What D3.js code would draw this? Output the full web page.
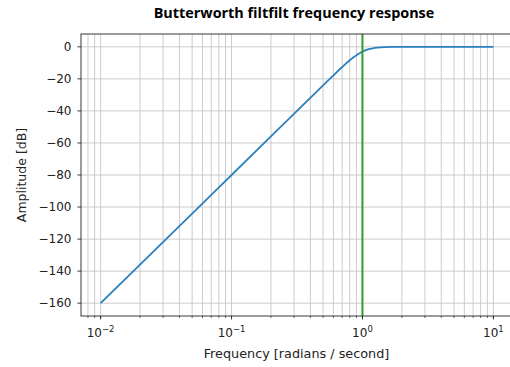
<!DOCTYPE html>
<html>
<head>
<meta charset="utf-8">
<script src="https://cdn.jsdelivr.net/npm/d3@7"></script>
<style>
  html, body { margin: 0; padding: 0; background: #fff; overflow: hidden; }
  svg { display: block; font-family: "DejaVu Sans", sans-serif; }
</style>
</head>
<body>
<svg id="chart" width="510" height="367"></svg>
<script>
// Frequency response of a 4th-order Butterworth high-pass, cutoff 1 rad/s
const freqs = [0.01, 0.02, 0.05, 0.1, 0.2, 0.3, 0.4, 0.5, 0.6, 0.7, 0.8, 0.85, 0.9, 0.95, 1.0, 1.05, 1.1, 1.2, 1.3, 1.5, 1.7, 2, 3, 5, 10];
const ampDb = [-160, -135.9, -104.1, -80, -55.9, -41.8, -31.8, -24.1, -17.8, -12.6, -8.4, -6.7, -5.2, -4.0, -3.0, -2.24, -1.66, -0.91, -0.50, -0.17, -0.06, -0.02, 0, 0, 0];
const cutoff = 1;

const yTicks = [0, -20, -40, -60, -80, -100, -120, -140, -160];
const xTickExps = [-2, -1, 0, 1];
const titleText = "Butterworth filtfilt frequency response";
const xLabel = "Frequency [radians / second]";
const yLabel = "Amplitude [dB]";

const svg = d3.select("#chart");
const m = { left: 81, top: 34, right: 513, bottom: 316 };

const x = d3.scaleLog().domain([Math.pow(10, -2.15), Math.pow(10, 1.15)]).range([m.left, m.right]);
const y = d3.scaleLinear().domain([-168, 8]).range([m.bottom, m.top]);

// Grid: major + minor on x, major on y
const minorX = [];
for (let e = -3; e <= 1; e++) {
  for (let k = 1; k <= 9; k++) {
    const v = k * Math.pow(10, e);
    if (v >= x.domain()[0] && v <= x.domain()[1]) minorX.push(v);
  }
}
const grid = svg.append("g").attr("stroke", "#c6c6c6").attr("stroke-width", 0.9);
grid.selectAll("line.gx").data(minorX).join("line")
  .attr("x1", d => x(d)).attr("x2", d => x(d))
  .attr("y1", m.top).attr("y2", m.bottom);
grid.selectAll("line.gy").data(yTicks).join("line")
  .attr("x1", m.left).attr("x2", m.right)
  .attr("y1", d => y(d)).attr("y2", d => y(d));

// Response curve
const line = d3.line().x((d, i) => x(freqs[i])).y(d => y(d)).curve(d3.curveMonotoneX);
svg.append("path").datum(ampDb)
  .attr("d", line)
  .attr("fill", "none")
  .attr("stroke", "#2a80be")
  .attr("stroke-width", 1.8);

// Cutoff marker
svg.append("line")
  .attr("x1", x(cutoff)).attr("x2", x(cutoff))
  .attr("y1", m.top).attr("y2", m.bottom)
  .attr("stroke", "#2ca02c").attr("stroke-width", 2);

// Spines
svg.append("rect")
  .attr("x", m.left).attr("y", m.top)
  .attr("width", m.right - m.left).attr("height", m.bottom - m.top)
  .attr("fill", "none").attr("stroke", "#222").attr("stroke-width", 0.9);

// X axis ticks
const xAxis = svg.append("g").attr("transform", `translate(0,${m.bottom})`);
xAxis.selectAll("line.minor").data(minorX).join("line")
  .attr("x1", d => x(d)).attr("x2", d => x(d))
  .attr("y1", 0).attr("y2", 2).attr("stroke", "#222").attr("stroke-width", 0.7);
xAxis.selectAll("line.major").data(xTickExps).join("line")
  .attr("x1", d => x(Math.pow(10, d))).attr("x2", d => x(Math.pow(10, d)))
  .attr("y1", 0).attr("y2", 3.5).attr("stroke", "#222").attr("stroke-width", 0.9);
const xt = xAxis.selectAll("text").data(xTickExps).join("text")
  .attr("x", d => x(Math.pow(10, d)))
  .attr("y", 21)
  .attr("text-anchor", "middle")
  .attr("font-size", 12).attr("fill", "#222");
xt.append("tspan").text("10");
xt.append("tspan").attr("dy", -5.5).attr("font-size", 8.5).text(d => d < 0 ? "\u2212" + Math.abs(d) : String(d));

// Y axis ticks
const yAxis = svg.append("g").attr("transform", `translate(${m.left},0)`);
yAxis.selectAll("line").data(yTicks).join("line")
  .attr("x1", -3.5).attr("x2", 0)
  .attr("y1", d => y(d)).attr("y2", d => y(d))
  .attr("stroke", "#222").attr("stroke-width", 0.9);
yAxis.selectAll("text").data(yTicks).join("text")
  .attr("x", -9.5).attr("y", d => y(d)).attr("dy", "0.35em")
  .attr("text-anchor", "end").attr("font-size", 12).attr("fill", "#222")
  .text(d => d < 0 ? "\u2212" + Math.abs(d) : String(d));

// Labels
svg.append("text")
  .attr("x", 296.5).attr("y", 358)
  .attr("text-anchor", "middle").attr("font-size", 12.8).attr("fill", "#222")
  .text(xLabel);
svg.append("text")
  .attr("transform", `translate(25.5,${(m.top + m.bottom) / 2}) rotate(-90)`)
  .attr("text-anchor", "middle").attr("font-size", 12.5).attr("fill", "#222")
  .text(yLabel);
svg.append("text")
  .attr("x", 294).attr("y", 17.5)
  .attr("text-anchor", "middle")
  .attr("font-family", "'Open Sans', sans-serif")
  .attr("font-weight", "bold").attr("font-size", 14.4).attr("fill", "#000")
  .text(titleText);
</script>
</body>
</html>
